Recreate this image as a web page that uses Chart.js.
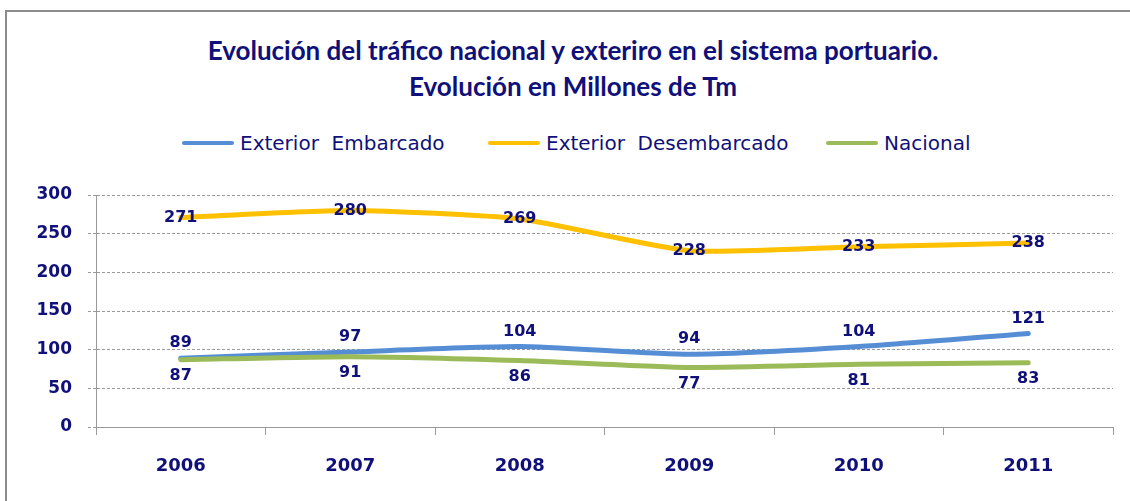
<!DOCTYPE html>
<html><head><meta charset="utf-8">
<script src="https://cdn.jsdelivr.net/npm/chart.js@4.4.1/dist/chart.umd.min.js"></script>
<style>
html,body{margin:0;padding:0;background:#fff;overflow:hidden}
#wrap{position:relative;width:1130px;height:501px;overflow:hidden;background:#fff}
#frame{position:absolute;left:5px;top:10px;width:1200px;height:600px;border:2px solid #8c8c8c;box-sizing:border-box}
#title{position:absolute;left:0;top:32px;width:1146px;text-align:center;font:bold 26px Lato,sans-serif;color:#10107a;line-height:36px}
.lg{position:absolute;top:130px;height:26px;font:20px 'DejaVu Sans',sans-serif;color:#10107a;display:flex;align-items:center;white-space:pre}
.lg i{display:inline-block;width:52px;height:4px;margin-right:6px;border-radius:2px}
canvas{position:absolute;left:0;top:0}
</style></head>
<body>
<div id="wrap">
  <div id="frame"></div>
  <div id="title">Evolución del tráfico nacional y exteriro en el sistema portuario.<br>Evolución en Millones de Tm</div>
  <div class="lg" style="left:182px"><i style="background:#558ed5"></i>Exterior  Embarcado</div>
  <div class="lg" style="left:488px"><i style="background:#ffc000"></i>Exterior  Desembarcado</div>
  <div class="lg" style="left:826px"><i style="background:#9bbb59"></i>Nacional</div>
  <canvas id="c" width="1130" height="501"></canvas>
</div>
<script>
// datos (millones de Tm)
var years = ['2006', '2007', '2008', '2009', '2010', '2011'];
var embarcado = [89, 97, 104, 94, 104, 121];
var desembarcado = [271, 280, 269, 228, 233, 238];
var nacional = [87, 91, 86, 77, 81, 83];
var yTicks = [0, 50, 100, 150, 200, 250, 300];

var NAVY = '#10107a';
var GRID = '#9a9a9a';
var FONT = "'DejaVu Sans', Verdana, sans-serif";

/* etiquetas de datos: arriba / centro / abajo según dataset.labelDy */
var valueLabels = {
  id: 'valueLabels',
  afterDatasetsDraw: function (chart) {
    var ctx = chart.ctx;
    ctx.save();
    ctx.font = 'bold 16px ' + FONT;
    ctx.fillStyle = NAVY;
    ctx.textAlign = 'center';
    ctx.textBaseline = 'middle';
    chart.data.datasets.forEach(function (ds, i) {
      chart.getDatasetMeta(i).data.forEach(function (pt, j) {
        ctx.fillText(String(ds.data[j]), pt.x, pt.y + ds.labelDy);
      });
    });
    ctx.restore();
  }
};

function line(label, data, color, dy) {
  return {
    label: label, data: data,
    borderColor: color, backgroundColor: color,
    borderWidth: 5, borderCapStyle: 'round', borderJoinStyle: 'round',
    pointRadius: 0, tension: 0.2, fill: false,
    labelDy: dy
  };
}

new Chart(document.getElementById('c'), {
  type: 'line',
  data: {
    labels: years,
    datasets: [
      line('Nacional', nacional, '#9bbb59', 16),
      line('Exterior Embarcado', embarcado, '#558ed5', -15),
      line('Exterior Desembarcado', desembarcado, '#ffc000', 0)
    ]
  },
  options: {
    responsive: false,
    animation: false,
    layout: { padding: { top: 195, right: 17, left: 0, bottom: 0 } },
    plugins: { legend: { display: false }, tooltip: { enabled: false } },
    scales: {
      x: {
        offset: true,
        grid: { offset: true, drawOnChartArea: false, tickLength: 8, color: GRID },
        border: { color: GRID },
        ticks: { color: NAVY, font: { family: FONT, weight: 'bold', size: 18 }, padding: 21 },
        afterFit: function (s) { s.height = 74; }
      },
      y: {
        min: 0, max: 300,
        afterBuildTicks: function (s) { s.ticks = yTicks.map(function (v) { return { value: v }; }); },
        grid: { color: GRID, tickLength: 8, tickBorderDash: [3, 2] },
        border: { color: GRID, dash: [3, 2] },
        ticks: { color: NAVY, font: { family: FONT, weight: 'bold', size: 17 }, padding: 16 },
        afterFit: function (s) { s.width = 96; }
      }
    }
  },
  plugins: [valueLabels]
});
</script>
</body></html>
